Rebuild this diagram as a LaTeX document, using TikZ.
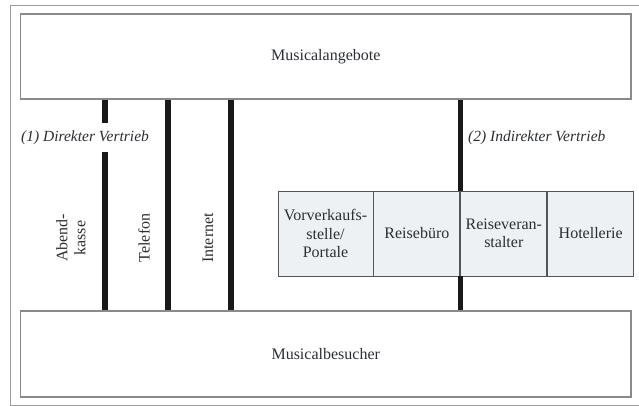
\documentclass[tikz,border=0pt]{standalone}
\usepackage{fontspec}
\setmainfont{Liberation Serif}
\usepackage{tikz}
\usetikzlibrary{positioning,calc}
\definecolor{framegray}{HTML}{9C9C9C}
\definecolor{boxgray}{HTML}{8A8A8A}
\definecolor{midfill}{HTML}{EEF1F3}
\definecolor{midline}{HTML}{555555}
\definecolor{textdark}{HTML}{2B2E33}

\begin{document}
\begin{tikzpicture}[x=1pt, y=-1pt,
    bigbox/.style={draw=boxgray, line width=1.1pt, minimum width=610.5pt, minimum height=85pt, inner sep=0pt, text=textdark, font=\fontsize{16}{18.5}\selectfont},
    midbox/.style={draw=midline, fill=midfill, line width=0.9pt, minimum width=86pt, minimum height=85pt, inner sep=0pt, align=center, text=textdark, font=\fontsize{16}{18.5}\selectfont},
    channel/.style={rotate=90, align=center, text=textdark, font=\fontsize{16}{18}\selectfont},
    vertrieb/.style={anchor=west, inner xsep=0pt, inner ysep=7.5pt, text=textdark, font=\fontsize{15.5}{18}\selectfont\itshape},
    bar/.style={line width=5.5pt, black!90},
]
\useasboundingbox (0,0) rectangle (639,406);
\draw[framegray, line width=0.9pt] (10,5) rectangle (650,405);

\node[bigbox] (angebote) at (325.75,56.5) {Musicalangebote};
\node[bigbox, minimum height=86pt] (besucher) at (325.75,354) {Musicalbesucher};

% indirekter Vertrieb
\node[midbox, minimum width=95pt] (vvk) at (325.5,233.5) {Vorverkaufs-\\stelle/\\Portale};
\node[midbox, right=0pt of vvk] (reise) {Reisebüro};
\node[midbox, right=0pt of reise] (veranst) {Reiseveran-\\stalter};
\node[midbox, right=0pt of veranst] (hotel) {Hotellerie};

\node[vertrieb] (direkt) at (21,137.5) {(1) Direkter Vertrieb};
\node[vertrieb] (indirekt) at (468,137.5) {(2) Indirekter Vertrieb};

% direkter Vertrieb
\node[channel] (abend) at (71,238) {Abend-\\kasse};
\node[channel] (telefon) at (144,238) {Telefon};
\node[channel] (internet) at (208,238) {Internet};

\coordinate (xkasse) at (105,0);
\coordinate (xtel) at (168,0);
\coordinate (xnet) at (231,0);

\draw[bar] (angebote.south -| xkasse) -- (direkt.north -| xkasse);
\draw[bar] (direkt.south -| xkasse) -- (besucher.north -| xkasse);
\foreach \c in {xtel,xnet} {
    \draw[bar] (angebote.south -| \c) -- (besucher.north -| \c);
}
\draw[bar] (angebote.south -| veranst.west) -- (veranst.north west);
\draw[bar] (veranst.south west) -- (besucher.north -| veranst.west);
\end{tikzpicture}
\end{document}
